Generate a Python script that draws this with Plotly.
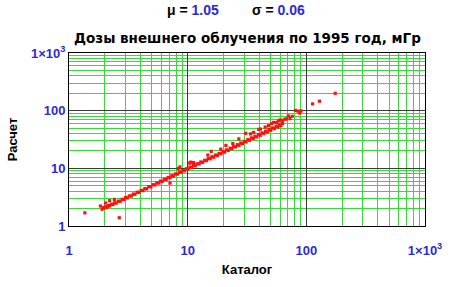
import plotly.graph_objects as go

# Main dense band (catalog vs calculated)
band_catalog = [1.9, 2.0, 2.1, 2.2, 2.35, 2.5, 2.7, 2.9, 3.1, 3.35, 3.6, 3.9, 4.2, 4.5, 4.9, 5.3,
                5.7, 6.1, 6.6, 7.1, 7.6, 8.2, 8.8, 9.4, 10.1, 10.8, 11.6, 12.5, 13.4, 14.4, 15.5,
                16.6, 17.8, 19.1, 20.5, 22.0, 23.6, 25.3, 27.1, 29.0, 31.1, 33.3, 35.7, 38.2,
                40.9, 43.8, 46.9, 50.2, 53.8, 57.6, 61.0]
band_calc = [1.95, 2.05, 2.12, 2.22, 2.36, 2.5, 2.68, 2.88, 3.07, 3.3, 3.55, 3.84, 4.12, 4.4,
             4.78, 5.16, 5.55, 5.93, 6.4, 6.88, 7.35, 7.92, 8.48, 9.05, 9.7, 10.35, 11.1, 11.9,
             12.7, 13.6, 14.6, 15.6, 16.7, 17.9, 19.1, 20.5, 21.9, 23.5, 25.1, 26.8, 28.7, 30.6,
             32.8, 35.0, 37.4, 40.0, 42.8, 45.6, 48.8, 52.0, 54.8]
band2_catalog = [1.95, 2.05, 2.15, 2.28, 2.42, 2.6, 2.8, 3.0, 3.22, 3.47, 3.75, 4.05, 4.35, 4.7,
                 5.1, 5.5, 5.9, 6.35, 6.85, 7.35, 7.9, 8.5, 9.1, 9.75, 10.45, 11.2, 12.0, 12.9,
                 13.9, 14.9, 16.0, 17.2, 18.4, 19.8, 21.2, 22.8, 24.4, 26.2, 28.0, 30.0, 32.2,
                 34.5, 36.9, 39.5, 42.3, 45.3, 48.5, 52.0, 55.6, 59.0, 63.0]
band2_calc = [2.08, 2.16, 2.26, 2.38, 2.52, 2.7, 2.9, 3.1, 3.32, 3.57, 3.85, 4.15, 4.45, 4.8,
              5.2, 5.6, 6.0, 6.45, 6.95, 7.45, 8.0, 8.6, 9.2, 9.85, 10.5, 11.2, 12.0, 12.9, 13.8,
              14.8, 15.9, 17.0, 18.2, 19.5, 20.9, 22.4, 24.0, 25.7, 27.5, 29.4, 31.5, 33.7, 36.0,
              38.5, 41.2, 44.0, 47.0, 50.3, 53.6, 56.8, 60.0]

# Scattered points above / apart from the band
scatter_catalog = [1.36, 2.65, 1.84, 2.03, 2.2, 2.41, 7.1, 8.3, 8.6, 10.4, 10.6, 11.2, 14.8,
                   15.8, 19.0, 21.0, 24.0, 27.0, 30.8, 33.9, 36.0, 39.7, 41.0, 45.0, 48.0, 51.0,
                   53.0, 56.0, 58.0, 60.0, 63.0, 66.0, 68.0, 70.5, 72.8, 76.0, 81.0, 85.0, 88.0,
                   90.0, 113.0, 129.0, 175.0]
scatter_calc = [1.69, 1.39, 2.22, 2.5, 2.75, 2.89, 5.55, 9.9, 10.6, 12.3, 12.8, 12.6, 17.0,
                19.7, 21.5, 25.0, 27.0, 32.4, 40.5, 39.6, 42.0, 47.4, 48.0, 52.0, 55.0, 60.0,
                62.6, 62.0, 66.0, 69.0, 68.0, 71.0, 72.0, 81.0, 73.0, 80.0, 101.0, 98.0, 91.0,
                99.0, 131.0, 146.0, 200.0]

tick_vals = [1, 10, 100, 1000]
tick_text = ["1", "10", "100", "1×10<sup>3</sup>"]

title_text = "Дозы внешнего облучения по 1995 год, мГр"
x_title = "Каталог"
y_title = "Расчет"
mu_value = "1.05"
sigma_value = "0.06"

BLUE = "#2a2ad6"
GREEN = "#33dd33"
MAJOR = "#3a3a3a"

fig = go.Figure()
for xs, ys in [(band_catalog, band_calc), (band2_catalog, band2_calc),
               (scatter_catalog, scatter_calc)]:
    fig.add_trace(go.Scatter(x=xs, y=ys, mode="markers",
                             marker=dict(color="#ff1010", size=3.2, symbol="square",
                                         line=dict(width=0)),
                             showlegend=False))

axis_common = dict(
    type="log", range=[0, 3],
    tickvals=tick_vals, ticktext=tick_text,
    tickfont=dict(family="Liberation Sans, Arial", size=13, color=BLUE, weight="bold"),
    showgrid=True, gridcolor=MAJOR, gridwidth=1,
    minor=dict(dtick="D1", showgrid=True, gridcolor=GREEN, gridwidth=1, ticks=""),
    showline=True, linecolor="black", linewidth=1, mirror=True,
    ticks="", zeroline=False,
)

fig.update_layout(
    width=457, height=287,
    margin=dict(l=62, r=32, t=53, b=58),
    paper_bgcolor="white", plot_bgcolor="white",
    font=dict(family="Liberation Sans, Arial", color="black"),
    xaxis=dict(**axis_common, ticklabelstandoff=12,
               title=dict(text=x_title, standoff=8,
                          font=dict(size=13, color="black", weight="bold"))),
    yaxis=dict(**axis_common, ticklabelstandoff=0,
               title=dict(text=y_title, standoff=10,
                          font=dict(size=13, color="black", weight="bold"))),
)

fig.add_annotation(text=title_text, xref="paper", yref="paper", x=0.5, y=1.0, yshift=15,
                   showarrow=False,
                   font=dict(family="DejaVu Sans", size=13.5, color="black", weight="bold"),
                   yanchor="middle")
fig.add_annotation(text=f"μ = <span style='color:{BLUE}'>{mu_value}</span>",
                   xref="paper", yref="paper", x=0.347, y=1.0, yshift=43, showarrow=False,
                   font=dict(size=14, color="black", weight="bold"), yanchor="middle")
fig.add_annotation(text=f"σ = <span style='color:{BLUE}'>{sigma_value}</span>",
                   xref="paper", yref="paper", x=0.669, y=1.0, yshift=43, showarrow=False,
                   font=dict(size=14, color="black", weight="bold"), yanchor="middle")

fig.write_html("out.html", config={"displayModeBar": False},
               post_script="document.body.style.margin='0';")
